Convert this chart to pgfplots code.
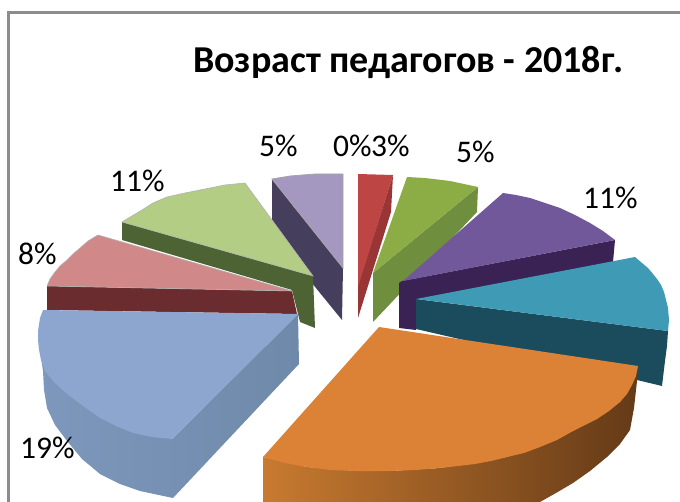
\documentclass[border=0pt]{standalone}
\usepackage{fontspec}
\setmainfont{Carlito}
\usepackage{pgfplots}
\pgfplotsset{compat=1.18}
\definecolor{framegray}{HTML}{8C8C8C}
\definecolor{lilac}{HTML}{A497C0}
\definecolor{lilacS}{HTML}{453E5C}
\definecolor{redF}{HTML}{BD4645}
\definecolor{redS}{HTML}{9A3535}
\definecolor{olive2}{HTML}{8CAD45}
\definecolor{oliveS}{HTML}{6F8F3E}
\definecolor{purple2}{HTML}{71589A}
\definecolor{purpleS}{HTML}{3A2255}
\definecolor{teal2}{HTML}{3E9AB5}
\definecolor{tealS}{HTML}{1A4C5E}
\definecolor{orange2}{HTML}{DC8236}
\definecolor{orangeL}{HTML}{C87A30}
\definecolor{orangeM}{HTML}{7A4A1E}
\definecolor{orangeR}{HTML}{643A17}
\definecolor{pink2}{HTML}{D08888}
\definecolor{pinkS}{HTML}{6B2C2F}
\definecolor{green2}{HTML}{B3CD85}
\definecolor{greenS}{HTML}{4D6333}
\definecolor{blue2}{HTML}{8DA6CF}
\definecolor{blueS}{HTML}{7E98BD}
\definecolor{blueT}{HTML}{6E89A9}
\tikzset{lab/.style={anchor=base west,font=\fontsize{31.5}{31.5}\selectfont,inner sep=0pt,text=black}}
\begin{document}
\begin{tikzpicture}
\useasboundingbox (0,0) rectangle (680pt,502pt);
\begin{axis}[
  at={(0,0)},anchor=south west,
  scale only axis,width=680pt,height=502pt,
  xmin=0,xmax=680,ymin=0,ymax=502,y dir=reverse,
  hide axis,
]
% lilac 5%
\addplot[fill=lilacS,draw=none] coordinates {(272,179)(272,234)(342,320)(343,268)} --cycle;
\addplot[fill=lilac,draw=gray!70,line width=0.8pt] coordinates {(272,179)(290,176)(315,174)(343,174)(343,268)} --cycle;
% red 3%
\addplot[fill=redS,draw=none] coordinates {(393,175)(391,212)(358,318)(358,285)} --cycle;
\addplot[fill=redF,draw=none] coordinates {(358,174)(393,175)(358,287)} --cycle;
% olive 5%
\addplot[fill=oliveS,draw=none] coordinates {(478,187)(477,212)(373,322)(373,273)} --cycle;
\addplot[fill=olive2,draw=none] coordinates {(407,177)(425,178)(450,181)(478,187)(373,273)} --cycle;
% purple 11%
\addplot[fill=purpleS,draw=none] coordinates {(402,281)(615,240)(613,262)(416,300)(416,330)(399,328)(399,283)} --cycle;
\addplot[fill=purple2,draw=none] coordinates {(503,193)(516,195)(530,198)(545,203)(560,208)(575,215)(590,223)(603,231)(615,240)(403,281)} --cycle;
% teal 11%
\addplot[fill=tealS,draw=none] coordinates {(416,299)(668,331)(667,346)(665,361)(662,386)(637,380)(416,329)} --cycle;
\addplot[fill=teal2,draw=none] coordinates {(416,299)(635,257)(642,263)(648,268)(653,274)(657,279)(661,285)(664,292)(666,300)(668,308)(669,320)(668,331)} --cycle;
% orange
\addplot[left color=orangeL,middle color=orangeM,right color=orangeR,draw=none] coordinates {(638,366)(637,381)(634,408)(630,430)(620,444)(607,457)(590,471)(573,483)(556,493)(540,502)(263,502)(263,457)(307,467)(357,471)(390,471)(440,468)(507,457)(573,431)(620,402)} --cycle;
\addplot[fill=orange2,draw=none] coordinates {(379,327)(638,366)(636,376)(632,385)(627,394)(620,402)(609,411)(597,419)(585,425)(573,431)(557,440)(540,447)(524,453)(507,457)(491,461)(475,464)(458,466)(440,468)(415,470)(390,471)(357,471)(330,470)(307,467)(285,463)(263,457)} --cycle;
% pink 8%
\addplot[fill=pinkS,draw=none] coordinates {(47,286)(292,291)(297,314)(47,310)} --cycle;
\addplot[fill=pink2,draw=gray!60,line width=0.6pt] coordinates {(98,235)(88,241)(80,248)(73,254)(67,260)(60,266)(55,272)(50,279)(47,286)(292,291)} --cycle;
% light green 11%
\addplot[fill=greenS,draw=none] coordinates {(122,222)(313,276)(315,328)(300,322)(292,290)(122,240)} --cycle;
\addplot[fill=green2,draw=gray!60,line width=0.6pt] coordinates {(245,183)(225,185)(205,189)(185,193)(167,197)(153,203)(142,210)(132,216)(122,222)(313,276)} --cycle;
% blue 19%
\addplot[left color=blueS,right color=blueT,draw=none] coordinates {(38,331)(40,351)(43,371)(44,390)(47,408)(55,425)(67,441)(82,459)(100,474)(120,484)(140,491)(173,498)(236,431)(299,364)(298,314)(172,439)} --cycle;
\addplot[fill=blue2,draw=none] coordinates {(43,310)(298,314)(172,439)(152,437)(133,433)(116,426)(100,418)(83,406)(67,394)(55,383)(45,371)(41,360)(39,350)(38,340)(38,331)(40,318)} --cycle;
% frame: left and top only
\addplot[draw=framegray,line width=2.6pt] coordinates {(8.5,502)(8.5,12.5)(680,12.5)};
\node[anchor=base west,inner sep=0pt,font=\fontsize{38}{38}\selectfont\bfseries] at (axis cs:193,73) {Возраст педагогов - 2018г.};
\node[lab] at (axis cs:333,157) {0\%};
\node[lab] at (axis cs:371,157) {3\%};
\node[lab] at (axis cs:456,163) {5\%};
\node[lab] at (axis cs:583,209) {11\%};
\node[lab] at (axis cs:20,458) {19\%};
\node[lab] at (axis cs:18,265) {8\%};
\node[lab] at (axis cs:110,192) {11\%};
\node[lab] at (axis cs:259,157) {5\%};
\end{axis}
\end{tikzpicture}
\end{document}
